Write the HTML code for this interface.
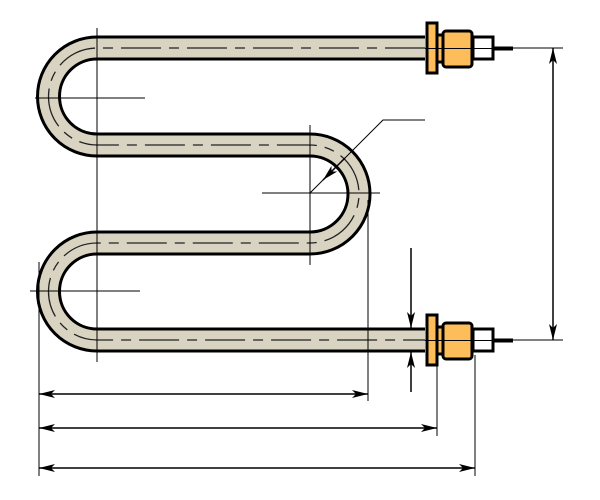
<!DOCTYPE html>
<html><head><meta charset="utf-8"><style>html,body{margin:0;padding:0;background:#fff}svg{display:block}</style></head>
<body>
<svg width="600" height="500" viewBox="0 0 600 500" xmlns="http://www.w3.org/2000/svg">
<defs>
<marker id="a" viewBox="0 0 16 8" refX="16" refY="4" markerWidth="16" markerHeight="8" markerUnits="userSpaceOnUse" orient="auto-start-reverse"><path d="M0,0 L16,4 L0,8 L4,4 Z" fill="#000"/></marker>
</defs>
<g fill="none">
<path id="tube" d="M425,48 H97 A48.5,48.5 0 0 0 97,145 H310 A49,49 0 0 1 310,243 H97 A48.5,48.5 0 0 0 97,340 H425" stroke="#000" stroke-width="25"/>
<path d="M425,48 H97 A48.5,48.5 0 0 0 97,145 H310 A49,49 0 0 1 310,243 H97 A48.5,48.5 0 0 0 97,340 H425" stroke="#d9d3c2" stroke-width="19"/>
<path d="M425,48 H97 A48.5,48.5 0 0 0 97,145 H310 A49,49 0 0 1 310,243 H97 A48.5,48.5 0 0 0 97,340 H425" stroke="#222" stroke-width="1.3" stroke-dasharray="40,8,10,8"/>
</g>
<g stroke="#000" stroke-width="1" fill="none">
<line x1="97" y1="28" x2="97" y2="362"/>
<line x1="35" y1="98" x2="145" y2="98"/>
<line x1="30" y1="291" x2="140" y2="291"/>
<line x1="310" y1="125" x2="310" y2="265"/>
<line x1="262" y1="193" x2="380" y2="193"/>
<line x1="39" y1="262" x2="39" y2="476"/>
<line x1="368" y1="200" x2="368" y2="401"/>
<line x1="437" y1="360" x2="437" y2="436"/>
<line x1="475" y1="355" x2="475" y2="476"/>
<line x1="513" y1="48" x2="563" y2="48"/>
<line x1="513" y1="340" x2="563" y2="340"/>
<line x1="553" y1="48" x2="553" y2="340" stroke-width="1.5" marker-start="url(#a)" marker-end="url(#a)"/>
<line x1="39" y1="394" x2="368" y2="394" stroke-width="1.5" marker-start="url(#a)" marker-end="url(#a)"/>
<line x1="39" y1="428" x2="437" y2="428" stroke-width="1.5" marker-start="url(#a)" marker-end="url(#a)"/>
<line x1="39" y1="468" x2="475" y2="468" stroke-width="1.5" marker-start="url(#a)" marker-end="url(#a)"/>
<line x1="411" y1="248" x2="411" y2="328" stroke-width="1.5" marker-end="url(#a)"/>
<line x1="411" y1="392" x2="411" y2="352" stroke-width="1.5" marker-end="url(#a)"/>
<polyline points="425,120 383,120 310,193"/>
<line x1="345" y1="158" x2="323" y2="180" stroke-width="1.5" marker-end="url(#a)"/>
</g>
<g id="fit" stroke="#000" stroke-width="3">
<rect x="473" y="37" width="20" height="22" fill="#fff"/>
<line x1="493" y1="48.5" x2="513" y2="48.5" stroke-width="4"/>
<rect x="437" y="35" width="6" height="27" fill="#fdbd5a"/>
<rect x="443" y="31" width="29" height="36" rx="3" fill="#fdbd5a"/>
<rect x="427" y="23" width="10" height="50" fill="#fdbd5a"/>
<line x1="425" y1="48.5" x2="493" y2="48.5" stroke-width="1"/>
</g>
<use href="#fit" transform="translate(0,292)"/>
</svg>
</body></html>
